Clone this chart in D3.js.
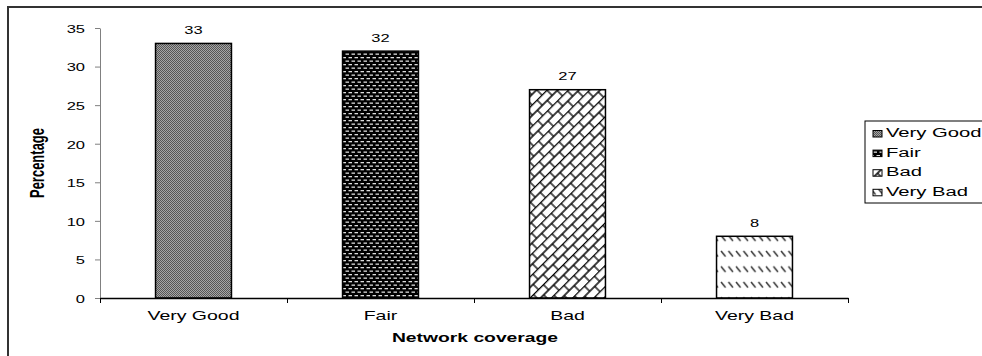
<!DOCTYPE html>
<html>
<head>
<meta charset="utf-8">
<script src="https://cdn.jsdelivr.net/npm/d3@7"></script>
<style>
  body { margin: 0; background: #fff; }
  svg { display: block; font-family: "Liberation Sans", Arial, sans-serif; }
</style>
</head>
<body>
<div id="chart"></div>
<script>
// data
var categories = ["Very Good", "Fair", "Bad", "Very Bad"];
var values = [33, 32, 27, 8];
var yTicks = [0, 5, 10, 15, 20, 25, 30, 35];
var xTitle = "Network coverage";
var yTitle = "Percentage";

var fills = ["url(#pVeryGood)", "url(#pFair)", "url(#pBad)", "url(#pVeryBad)"];

var w = 982, h = 356;
var sx = 1.5; // the original picture is stretched sideways

var svg = d3.select("#chart").append("svg")
    .attr("width", w).attr("height", h);

// patterns
var defs = svg.append("defs");

var p1 = defs.append("pattern").attr("id", "pVeryGood")
    .attr("patternUnits", "userSpaceOnUse").attr("width", 4).attr("height", 4);
p1.append("rect").attr("width", 4).attr("height", 4).attr("fill", "#a6a6a6");
p1.append("path")
    .attr("d", "M0,0h1v1h-1zM2,0h1v1h-1zM1,1h1v1h-1zM3,1h1v1h-1zM0,2h1v1h-1zM2,2h1v1h-1zM1,3h1v1h-1zM3,3h1v1h-1z")
    .attr("fill", "#555").attr("shape-rendering", "crispEdges");

var p2 = defs.append("pattern").attr("id", "pFair")
    .attr("patternUnits", "userSpaceOnUse").attr("width", 6).attr("height", 7);
p2.append("rect").attr("width", 6).attr("height", 7).attr("fill", "#000");
p2.append("rect").attr("x", 0.5).attr("y", 1).attr("width", 3.5).attr("height", 1.3).attr("fill", "#ddd");
p2.append("rect").attr("x", 3.5).attr("y", 4.5).attr("width", 3.5).attr("height", 1.3).attr("fill", "#ddd");
p2.append("rect").attr("x", -2.5).attr("y", 4.5).attr("width", 3.5).attr("height", 1.3).attr("fill", "#ddd");

var p3 = defs.append("pattern").attr("id", "pBad")
    .attr("patternUnits", "userSpaceOnUse").attr("width", 14).attr("height", 15)
    .attr("patternTransform", "rotate(-45)");
p3.append("rect").attr("width", 14).attr("height", 15).attr("fill", "#fff");
p3.append("path")
    .attr("d", "M0,0.5H14M0,8H14M1,0.5V8M8,8V15.5")
    .attr("stroke", "#000").attr("stroke-width", 1.3).attr("fill", "none");

var p4 = defs.append("pattern").attr("id", "pVeryBad")
    .attr("patternUnits", "userSpaceOnUse").attr("width", 7.5).attr("height", 15.5)
    .attr("y", 1);
p4.append("rect").attr("width", 7.5).attr("height", 15.5).attr("fill", "#fff");
p4.append("path")
    .attr("d", "M1,2L5.5,7.5")
    .attr("stroke", "#333").attr("stroke-width", 1.5);

// outer frame (cut off on the right and bottom)
svg.append("rect")
    .attr("x", 8).attr("y", 7).attr("width", 1100).attr("height", 500)
    .attr("fill", "none").attr("stroke", "#333").attr("stroke-width", 2);

// scales
var y = d3.scaleLinear().domain([0, 35]).range([298, 28]);
var x = d3.scaleBand().domain(categories).range([100, 848])
    .paddingInner(0.594).paddingOuter(0.297);
var xEdge = d3.scaleLinear().domain([0, categories.length]).range([100, 848]);

function wideText(parent, px, py, txt, anchor, size, weight) {
  return parent.append("text")
    .attr("transform", "translate(" + px + "," + py + ") scale(" + sx + ",1)")
    .attr("text-anchor", anchor)
    .attr("font-size", size)
    .attr("font-weight", weight || "normal")
    .attr("fill", "#000")
    .text(txt);
}

// y axis
var yAxis = d3.axisLeft(y).tickValues(yTicks).tickSize(5).tickSizeOuter(0);
var gy = svg.append("g").attr("transform", "translate(100,0)").call(yAxis);
gy.select(".domain").attr("stroke", "#808080");
gy.selectAll(".tick line").attr("stroke", "#808080");
gy.selectAll(".tick text")
    .attr("x", -15 / sx).attr("dy", null).attr("y", 4.3)
    .attr("transform", "scale(" + sx + ",1)")
    .attr("font-size", 11).attr("font-family", null).attr("fill", "#000");

// bars
svg.selectAll(".bar")
    .data(values).enter()
    .append("rect")
    .attr("class", "bar")
    .attr("x", function(d, i) { return x(categories[i]); })
    .attr("y", function(d) { return y(d); })
    .attr("width", x.bandwidth())
    .attr("height", function(d) { return y(0) - y(d); })
    .attr("fill", function(d, i) { return fills[i]; })
    .attr("stroke", "#000").attr("stroke-width", 1.5);

// value labels
values.forEach(function(d, i) {
  wideText(svg, x(categories[i]) + x.bandwidth() / 2, y(d) - 9.5, d, "middle", 11);
});

// x axis line and boundary ticks
var gEdge = svg.append("g").attr("transform", "translate(0,298)")
    .call(d3.axisBottom(xEdge).ticks(categories.length).tickSize(5).tickSizeOuter(0).tickFormat(""));
gEdge.select(".domain").attr("stroke", "#000").attr("stroke-width", 1.5);
gEdge.selectAll(".tick line").attr("stroke", "#000");

// x category labels
var gx = svg.append("g").attr("transform", "translate(0,298)")
    .call(d3.axisBottom(x).tickSize(0));
gx.select(".domain").remove();
gx.selectAll(".tick text")
    .attr("y", 22).attr("dy", null)
    .attr("transform", "scale(" + sx + ",1)")
    .attr("font-size", 13).attr("font-family", null).attr("fill", "#000");

// axis titles
wideText(svg, 475, 342, xTitle, "middle", 13.5, "bold").attr("transform", "translate(475,342) scale(1.43,1)");
svg.append("text")
    .attr("transform", "translate(44,163) scale(1.5,1) rotate(-90)")
    .attr("text-anchor", "middle")
    .attr("font-size", 13).attr("font-weight", "bold")
    .text(yTitle);

// legend
var legend = svg.append("g");
legend.append("rect")
    .attr("x", 865).attr("y", 121).attr("width", 200).attr("height", 82)
    .attr("fill", "#fff").attr("stroke", "#000").attr("stroke-width", 1);
categories.forEach(function(c, i) {
  var ly = 137 + i * 19.6;
  legend.append("rect")
    .attr("x", 873).attr("y", ly - 6.5).attr("width", 9).attr("height", 6.5)
    .attr("fill", fills[i]).attr("stroke", "#000").attr("stroke-width", 1);
  wideText(legend, 886, ly, c, "start", 13.5);
});
</script>
</body>
</html>
